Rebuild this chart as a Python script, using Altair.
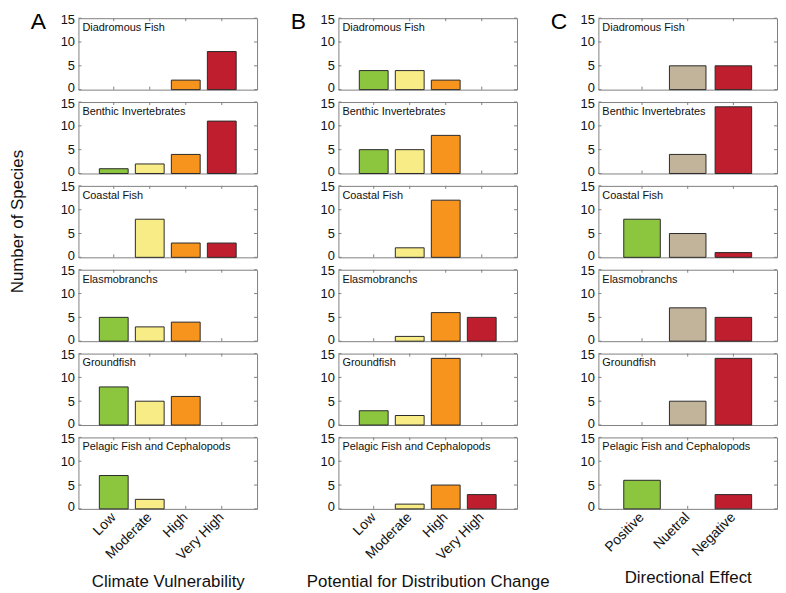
import altair as alt
import pandas as pd

GROUPS = ["Diadromous Fish", "Benthic Invertebrates", "Coastal Fish",
          "Elasmobranchs", "Groundfish", "Pelagic Fish and Cephalopods"]

VULN_CATS = ["Low", "Moderate", "High", "Very High"]
VULN_VALUES = [
    [0, 0, 2, 8],
    [1, 2, 4, 11],
    [0, 8, 3, 3],
    [5, 3, 4, 0],
    [8, 5, 6, 0],
    [7, 2, 0, 0],
]

DIST_CATS = ["Low", "Moderate", "High", "Very High"]
DIST_VALUES = [
    [4, 4, 2, 0],
    [5, 5, 8, 0],
    [0, 2, 12, 0],
    [0, 1, 6, 5],
    [3, 2, 14, 0],
    [0, 1, 5, 3],
]

DIR_CATS = ["Positive", "Nuetral", "Negative"]
DIR_VALUES = [
    [0, 5, 5],
    [0, 4, 14],
    [8, 5, 1],
    [0, 7, 5],
    [0, 5, 14],
    [6, 0, 3],
]

FOUR_COLORS = ["#8cc63f", "#f7ec86", "#f7941d", "#be1e2d"]
THREE_COLORS = ["#8cc63f", "#c2b49a", "#be1e2d"]

Y_TICKS = [0, 5, 10, 15]

COLUMN_TITLES = ["Climate Vulnerability", "Potential for Distribution Change", "Directional Effect"]
LETTERS = ["A", "B", "C"]
Y_TITLE = "Number of Species"

W = 180
H = 72
FONT = "Liberation Sans"
FRAME = "#808080"


def panel(cats, colors, values, group, row, letter, xtitle, y_title):
    pad_outer = 0.58 if len(cats) == 4 else 0.555
    xscale = alt.Scale(domain=cats, paddingInner=0.2, paddingOuter=pad_outer)
    yscale = alt.Scale(domain=[0, 15], nice=False, zero=True)

    df = pd.DataFrame({"cat": cats, "n": values, "color": colors})
    bars_df = df[df["n"] > 0]
    empty_df = df[df["n"] == 0]

    if row == len(GROUPS) - 1:
        xaxis = alt.Axis(title=xtitle, labelAngle=315, labelAlign="right",
                         labelBaseline="middle", labelFontSize=14, labelPadding=6,
                         ticks=False, domain=False, grid=False,
                         titleFontSize=17, titlePadding=11, titleFontWeight="normal")
    else:
        xaxis = None
    yaxis = alt.Axis(values=Y_TICKS, title=None, ticks=False, domain=False,
                     grid=False, labelFontSize=13, labelPadding=4,
                     labelFlush=True, labelFlushOffset=5)

    bars = alt.Chart(bars_df).mark_bar(stroke="#2a2a2a", strokeWidth=1, opacity=1).encode(
        x=alt.X("cat:N", scale=xscale, axis=xaxis, sort=cats),
        y=alt.Y("n:Q", scale=yscale, axis=yaxis),
        color=alt.Color("color:N", scale=None),
    )

    ytick_df = pd.DataFrame({"v": Y_TICKS})
    ytl = alt.Chart(ytick_df).mark_rule(color=FRAME, strokeWidth=1).encode(
        y=alt.Y("v:Q", scale=yscale, axis=yaxis), x=alt.value(0), x2=alt.value(3))
    ytr = alt.Chart(ytick_df).mark_rule(color=FRAME, strokeWidth=1).encode(
        y=alt.Y("v:Q", scale=yscale, axis=yaxis), x=alt.value(W - 3), x2=alt.value(W))

    xtt = alt.Chart(df).mark_rule(color=FRAME, strokeWidth=1).encode(
        x=alt.X("cat:N", scale=xscale, axis=xaxis, sort=cats), y=alt.value(0), y2=alt.value(3))
    xtb = alt.Chart(empty_df).mark_rule(color=FRAME, strokeWidth=1).encode(
        x=alt.X("cat:N", scale=xscale, axis=xaxis, sort=cats), y=alt.value(H - 3), y2=alt.value(H))

    label = alt.Chart(pd.DataFrame({"label": [group]})).mark_text(
        align="left", baseline="alphabetic", fontSize=11, color="#111111").encode(
        text="label:N", x=alt.value(4), y=alt.value(13))

    layers = [bars, ytl, ytr, xtt]
    if len(empty_df):
        layers.append(xtb)
    layers.append(label)

    if row == 0:
        lt = alt.Chart(pd.DataFrame({"letter": [letter]})).mark_text(
            align="left", baseline="alphabetic", fontSize=23, color="#000000").encode(
            text="letter:N", x=alt.value(-48), y=alt.value(11))
        layers.append(lt)

    if y_title and row == 2:
        yt = alt.Chart(pd.DataFrame({"t": [Y_TITLE]})).mark_text(
            align="center", baseline="middle", fontSize=17, angle=270, color="#111111").encode(
            text="t:N", x=alt.value(-61), y=alt.value(H / 2))
        layers.append(yt)

    return alt.layer(*layers).properties(width=W, height=H)


COLUMNS = [
    (VULN_CATS, FOUR_COLORS, VULN_VALUES),
    (DIST_CATS, FOUR_COLORS, DIST_VALUES),
    (DIR_CATS, THREE_COLORS, DIR_VALUES),
]

panels = []
for r in range(len(GROUPS)):
    for c, (cats, colors, table) in enumerate(COLUMNS):
        panels.append(panel(cats, colors, table[r], GROUPS[r], r, LETTERS[c],
                            COLUMN_TITLES[c], y_title=(c == 0)))

chart = alt.concat(*panels, columns=3, spacing={"row": 12.5, "column": 82}, bounds="flush").properties(
    padding=0, background="white"
).configure_view(
    stroke=FRAME, strokeWidth=1
).configure_axis(
    labelFont=FONT, titleFont=FONT, labelColor="#111111", titleColor="#111111"
).configure_text(
    font=FONT
)

chart.save("out.html", embed_options={"renderer": "svg", "actions": False})
